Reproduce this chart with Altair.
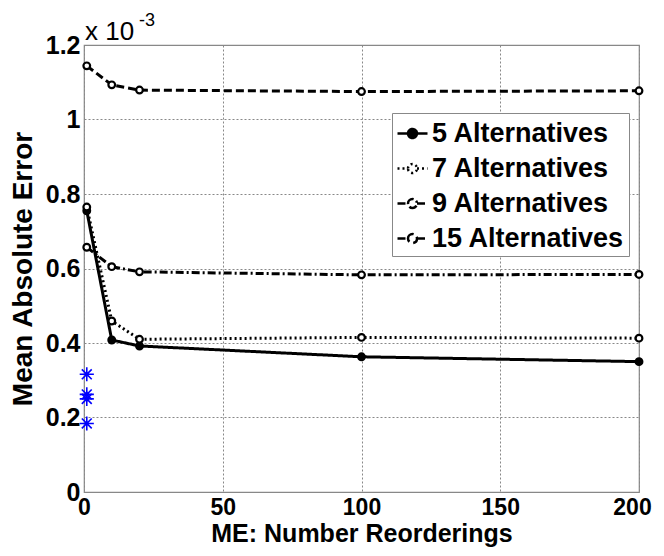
import altair as alt
import pandas as pd

reorderings = [1, 10, 20, 100, 200]
series_names = ["5 Alternatives", "7 Alternatives", "9 Alternatives", "15 Alternatives"]
alt5 = [0.755, 0.408, 0.392, 0.363, 0.350]
alt7 = [0.765, 0.459, 0.410, 0.415, 0.413]
alt9 = [0.657, 0.605, 0.591, 0.583, 0.584]
alt15 = [1.144, 1.093, 1.079, 1.075, 1.077]
star_x = [1, 1, 1, 1]
star_y = [0.316, 0.262, 0.250, 0.184]
x_ticks = [0, 50, 100, 150, 200]
y_ticks = [0, 0.2, 0.4, 0.6, 0.8, 1.0, 1.2]

rows = []
for name, vals in zip(series_names, [alt5, alt7, alt9, alt15]):
    for x, v in zip(reorderings, vals):
        rows.append({"x": x, "y": v, "series": name})
df = pd.DataFrame(rows)
stars = pd.DataFrame({"x": star_x, "y": star_y})

FONT = "Liberation Sans"

xscale = alt.Scale(domain=[0, 200], nice=False)
yscale = alt.Scale(domain=[0, 1.2], nice=False)

xenc = alt.X("x:Q", scale=xscale,
             axis=alt.Axis(values=x_ticks, title="ME: Number Reorderings", format="d",
                           grid=True, gridDash=[2, 2], gridColor="#888888", gridWidth=1,
                           domain=False, ticks=False, labelFont=FONT, labelFontSize=23,
                           labelFontWeight="bold", labelColor="black", labelPadding=4,
                           labelOffset={"condition": {"test": "datum.value == 200", "value": -7}, "value": 0},
                           titleFont=FONT, titleFontSize=25, titleFontWeight="bold",
                           titleColor="black", titlePadding=2, labelFlush=False))
yenc = alt.Y("y:Q", scale=yscale,
             axis=alt.Axis(values=y_ticks, title="Mean Absolute Error", format=".1~f",
                           grid=True, gridDash=[2, 2], gridColor="#888888", gridWidth=1,
                           domain=False, ticks=False, labelFont=FONT, labelFontSize=25,
                           labelFontWeight="bold", labelColor="black", labelPadding=4,
                           titleFont=FONT, titleFontSize=28, titleFontWeight="bold",
                           titleColor="black", titlePadding=8, labelFlush=False))

legend_symbol = "M-1,0L-0.3,0M0.3,0L1,0M-0.3,0A0.3,0.3,0,1,1,0.3,0A0.3,0.3,0,1,1,-0.3,0"

lines = alt.Chart(df).mark_line(color="black", strokeWidth=3).encode(
    x=xenc, y=yenc,
    strokeDash=alt.StrokeDash("series:N", sort=series_names,
                              scale=alt.Scale(domain=series_names,
                                              range=[[1, 0], [2, 3], [8, 3, 2, 3], [8, 4]]),
                              legend=alt.Legend(title=None, orient="none", legendX=308, legendY=68,
                                                symbolType=legend_symbol, symbolSize=900,
                                                symbolStrokeColor="black", symbolStrokeWidth=2.5,
                                                symbolFillColor="white",
                                                labelFont=FONT, labelFontSize=27, labelFontWeight="bold",
                                                labelColor="black", labelOffset=3, labelLimit=400,
                                                rowPadding=5, padding=4, fillColor="white",
                                                strokeColor="#888888")),
)

points = alt.Chart(df).mark_point(size=45, strokeWidth=2.2, stroke="black", filled=False, opacity=1).encode(
    x="x:Q", y="y:Q",
    fill=alt.Fill("series:N", scale=alt.Scale(domain=series_names,
                                              range=["black", "white", "white", "white"]),
                  legend=None),
)

asterisk = "M0,-1L0,1M-1,0L1,0M-0.7,-0.7L0.7,0.7M-0.7,0.7L0.7,-0.7"
star_layer = alt.Chart(stars).mark_point(shape=asterisk, size=200, stroke="#0000ff",
                                         strokeWidth=1.6, filled=False, opacity=1).encode(
    x="x:Q", y="y:Q")

ann_df = pd.DataFrame({"t": ["x 10"]})
ann1 = alt.Chart(ann_df).mark_text(font=FONT, fontSize=26, color="black",
                                   align="left", baseline="alphabetic").encode(
    x=alt.value(1), y=alt.value(-5), text="t:N")
ann_df2 = pd.DataFrame({"t": ["-3"]})
ann2 = alt.Chart(ann_df2).mark_text(font=FONT, fontSize=18, color="black",
                                    align="left", baseline="alphabetic").encode(
    x=alt.value(55), y=alt.value(-19), text="t:N")

chart = alt.layer(lines, points, star_layer, ann1, ann2).properties(
    width=555, height=447,
    autosize=alt.AutoSizeParams(type="none"),
    padding={"left": 76, "top": 37, "right": 17, "bottom": 56},
    background="white",
).configure_view(stroke="#888888", strokeWidth=1.2)

chart.save("out.html", embed_options={"renderer": "svg", "actions": False})
